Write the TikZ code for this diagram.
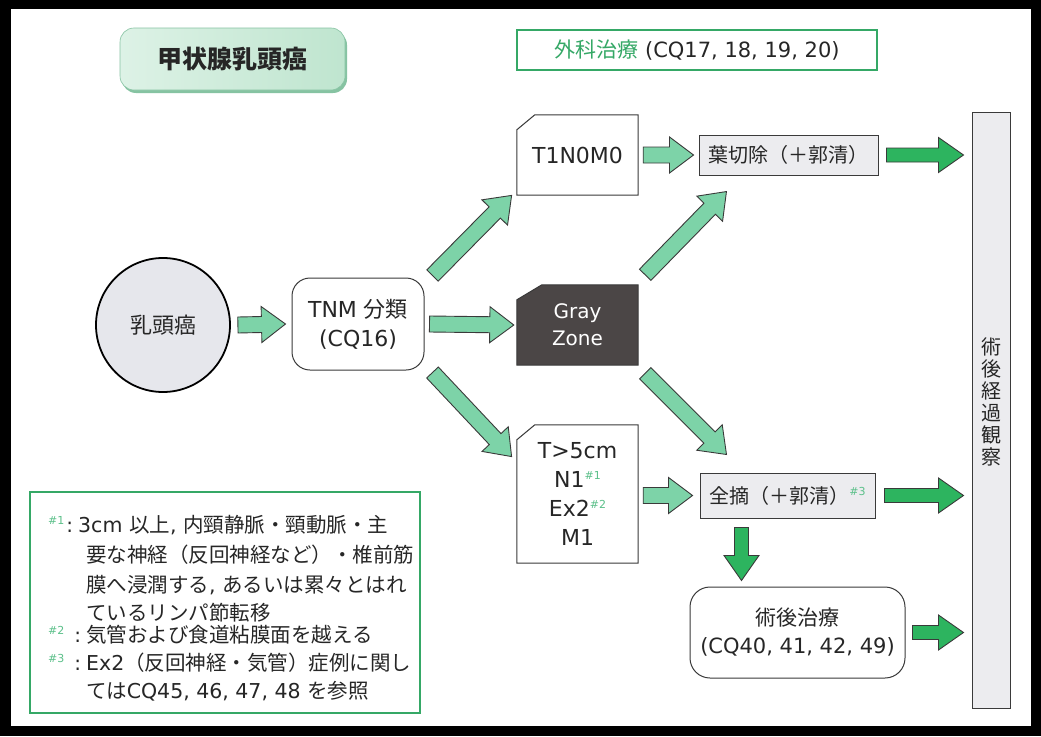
\documentclass[tikz,border=0pt]{standalone}
\usepackage{fontspec}
\setmainfont{DejaVu Sans}
\newfontfamily\jp{Noto Sans CJK JP}
\usetikzlibrary{calc}
\pgfdeclarelayer{back}
\pgfdeclarelayer{mid}
\pgfsetlayers{back,mid,main}
\definecolor{lgreen}{HTML}{7DD3A8}
\definecolor{dgreen}{HTML}{2DB45F}
\definecolor{tgreen}{HTML}{35A866}
\definecolor{sgreen}{HTML}{5CC08A}
\definecolor{bgray}{HTML}{ECECEF}
\definecolor{cgray}{HTML}{E6E7EC}
\definecolor{zone}{HTML}{4B4646}
\definecolor{edge}{HTML}{3A3A3A}
\definecolor{tl}{HTML}{DDF2E6}
\definecolor{tr}{HTML}{BFE5CF}
\definecolor{tshadow}{HTML}{86C3A2}
\definecolor{ink}{HTML}{262626}
\newcommand\fs[1]{\fontsize{#1}{#1}\selectfont}
\newcommand\blockarr[6]{%
  \draw[#1] let \p1=(#2), \p2=(#3), \n1={atan2(\y2-\y1,\x2-\x1)}, \n2={veclen(\x2-\x1,\y2-\y1)} in
  [shift={(\p1)}, rotate=\n1] (0pt,#4) -- (\n2-#6,#4) -- (\n2-#6,#5) -- (\n2,0pt) -- (\n2-#6,-#5) -- (\n2-#6,-#4) -- (0pt,-#4) -- cycle;}
\newcommand\cutframe[4]{%
  \begin{pgfonlayer}{mid}
  \draw[#2] ([yshift=-#4]#1.north west) -- ([xshift=#3]#1.north west) -- (#1.north east) -- (#1.south east) -- (#1.south west) -- cycle;
  \end{pgfonlayer}}
\tikzset{
  edgeline/.style={draw=edge, line width=1pt},
  lightarr/.style={fill=lgreen, draw=edge, line width=0.9pt, line join=miter},
  darkarr/.style={fill=dgreen, draw=edge, line width=0.9pt, line join=miter},
  plainbox/.style={inner sep=0pt, text=ink},
}
\newcommand\mk[1]{\raisebox{8pt}{\fs{11}\color{sgreen}\##1}}
\newcommand\fnlead[2]{\makebox[#2][l]{\mk{#1}\hfill\fs{20}:\hspace{5pt}}}
\begin{document}
\begin{tikzpicture}[x=1pt,y=-1pt]
\useasboundingbox (0,0) rectangle (1041,736);
\begin{pgfonlayer}{back}
\fill[black] (0,0) rectangle (1041,736);
\fill[white] (11,9) rectangle (1031,726);
\end{pgfonlayer}

% title
\fill[tshadow, rounded corners=14pt] (122,31) rectangle (347,93);
\node[rounded corners=14pt, minimum width=225pt, minimum height=62pt, left color=tl, right color=tr, draw=tshadow, line width=0.6pt, text=ink] (title) at (232.5,59) {\jp\bfseries\fs{25}甲状腺乳頭癌};

% surgery header
\node[draw=tgreen, line width=1.2pt, minimum width=360pt, minimum height=40pt, fill=white, text=ink] (geka) at (697,50) {\fs{21}{\jp\color{tgreen}外科治療}\ (CQ17, 18, 19, 20)};

% main nodes
\node[circle, draw=black, line width=1.8pt, fill=cgray, minimum size=134pt, inner sep=0pt, text=ink] (circ) at (163,325) {\jp\fs{22}乳頭癌};
\node[draw=edge, line width=1pt, rounded corners=18pt, minimum width=132pt, minimum height=92pt, align=center, fill=white, text=ink, font=\fontsize{22}{29}\selectfont] (tnm) at (358,324) {TNM {\jp 分類}\\(CQ16)};

\node[plainbox, minimum width=121pt, minimum height=80pt, font=\fs{22}] (t1) at (577.5,155) {T1N0M0};
\cutframe{t1}{edgeline, fill=white}{18pt}{15pt}
\node[plainbox, minimum width=121pt, minimum height=80pt, align=center, text=white, font=\fontsize{20}{27}\selectfont] (gray) at (577.5,325) {Gray\\Zone};
\cutframe{gray}{edgeline, fill=zone}{25pt}{15pt}
\node[plainbox, minimum width=121pt, minimum height=138pt, align=center, font=\fontsize{22}{29}\selectfont] (t5) at (577.5,494) {T>5cm\\N1\mk{1}\\Ex2\mk{2}\\M1};
\cutframe{t5}{edgeline, fill=white}{18pt}{15pt}

\node[edgeline, fill=bgray, minimum width=179pt, minimum height=40pt, inner sep=0pt, text=ink] (yo) at (788.5,155) {\jp\fs{20}葉切除（＋郭清）};
\node[edgeline, fill=bgray, minimum width=175pt, minimum height=45pt, inner sep=0pt, text=ink] (zen) at (787.5,495.5) {{\jp\fs{20}全摘（＋郭清）}\mk{3}};
\node[edgeline, fill=white, rounded corners=20pt, minimum width=215pt, minimum height=91pt, inner sep=0pt, align=center, text=ink, font=\fontsize{21}{28}\selectfont] (post) at (797.5,632.5) {{\jp 術後治療}\\(CQ40, 41, 42, 49)};
\node[edgeline, fill=bgray, minimum width=38pt, minimum height=596pt, inner sep=0pt] (bar) at (991,410) {};
\node[align=center, text=ink, inner sep=0pt, font=\jp\fontsize{20}{22}\selectfont] (bartext) at (991,402) {術\\後\\経\\過\\観\\察};

% footnotes
\node[draw=tgreen, line width=1.2pt, minimum width=390pt, minimum height=221pt, fill=white] (foot) at (225,602.5) {};
\node[plainbox, anchor=base west] (f1) at (48,532) {\fnlead{1}{30pt}\fs{20.5}3cm {\jp 以上}, {\jp 内頸静脈・頸動脈・主}};
\node[plainbox, anchor=base west] (f2) at (86,562) {\jp\fs{20.5}要な神経（反回神経など）・椎前筋};
\node[plainbox, anchor=base west] (f3) at (86,592) {\fs{20.5}{\jp 膜へ浸潤する}, {\jp あるいは累々とはれ}};
\node[plainbox, anchor=base west] (f4) at (86,620) {\jp\fs{20.5}ているリンパ節転移};
\node[plainbox, anchor=base west] (f5) at (48,642) {\fnlead{2}{38pt}\jp\fs{20.5}気管および食道粘膜面を越える};
\node[plainbox, anchor=base west] (f6) at (48,670) {\fnlead{3}{38pt}\fs{20.5}Ex2{\jp（反回神経・気管）症例に関し}};
\node[plainbox, anchor=base west] (f7) at (86,698) {\fs{20.5}{\jp ては}CQ45, 46, 47, 48 {\jp を参照}};

% light arrows
\blockarr{lightarr}{$(circ.east)+(7,0)$}{$(tnm.west)+(-6,0)$}{8pt}{18pt}{24pt}
\blockarr{lightarr}{$(tnm.east)+(5,0)$}{$(gray.west)+(-3,0)$}{8pt}{18pt}{24pt}
\blockarr{lightarr}{$(tnm.north east)+(8,-2)$}{$(t1.south west)+(-5,0)$}{8pt}{18pt}{24pt}
\blockarr{lightarr}{$(tnm.south east)+(8,2)$}{$(t5.north west)+(-5,32)$}{8pt}{18pt}{24pt}
\blockarr{lightarr}{$(gray.north east)+(7,-10)$}{$(yo.south west)+(28,16)$}{8pt}{18pt}{24pt}
\blockarr{lightarr}{$(gray.south east)+(7,8)$}{$(zen.north west)+(27,-18)$}{8pt}{18pt}{24pt}
\blockarr{lightarr}{$(t1.east)+(5,0)$}{$(yo.west)+(-5,0)$}{8pt}{18pt}{24pt}
\blockarr{lightarr}{$(t5.east |- zen.west)+(5,0)$}{$(zen.west)+(-7,0)$}{8pt}{18pt}{24pt}

% dark arrows
\blockarr{darkarr}{$(yo.east)+(8,0)$}{$(bar.west |- yo.east)+(-8,0)$}{7pt}{17.5pt}{25pt}
\blockarr{darkarr}{$(zen.east)+(9,0)$}{$(bar.west |- zen.east)+(-8,0)$}{7pt}{17.5pt}{25pt}
\blockarr{darkarr}{$(zen.south west)+(42,9)$}{$(post.north west)+(52,-6)$}{7pt}{17.5pt}{25pt}
\blockarr{darkarr}{$(post.east)+(7,0)$}{$(bar.west |- post.east)+(-8,0)$}{7pt}{17.5pt}{25pt}
\end{tikzpicture}
\end{document}
